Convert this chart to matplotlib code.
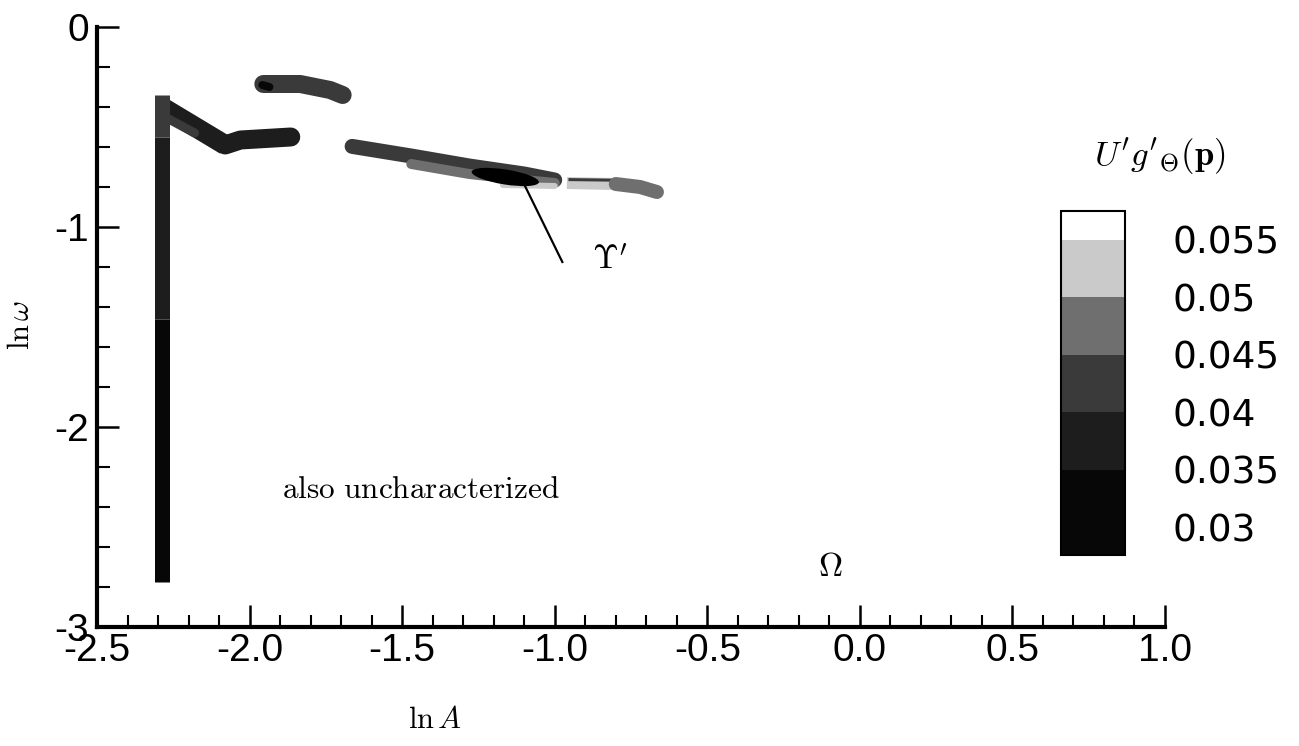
import numpy as np
import matplotlib
matplotlib.use("Agg")
import matplotlib.pyplot as plt
from matplotlib.colors import ListedColormap, BoundaryNorm
from matplotlib.patches import Ellipse
import matplotlib.transforms as mtransforms
import matplotlib.colorbar as mcolorbar
from matplotlib.ticker import MultipleLocator, FuncFormatter

plt.rcParams['mathtext.fontset'] = 'cm'
plt.rcParams['axes.unicode_minus'] = False
plt.rcParams['font.family'] = ['Liberation Sans', 'DejaVu Sans']

# ---- data ----
# colour levels of U' g'_Theta(p)
level_bounds = [0.0276, 0.035, 0.04, 0.045, 0.05, 0.055, 0.0575]
level_colors = ['#070707', '#1d1d1d', '#3a3a3a', '#6f6f6f', '#cacaca', '#ffffff']
cbar_ticks = [0.03, 0.035, 0.04, 0.045, 0.05, 0.055]
cbar_labels = ['0.03', '0.035', '0.04', '0.045', '0.05', '0.055']

# region traces in (ln A, ln omega) with value of U' g'_Theta(p)
trace_lnA = [
    [-2.287, -2.08],                                   # diagonal
    [-2.08, -2.03, -1.865],                            # shelf
    [-2.265, -2.18],                                   # diagonal inner
    [-2.287, -2.287],                                  # vertical, lower
    [-2.287, -2.287],                                  # vertical, middle
    [-2.287, -2.287],                                  # vertical, top
    [-1.955, -1.834, -1.736, -1.695],                  # upper blob
    [-1.958, -1.935],                                  # upper blob tip
    [-1.664, -1.47, -1.28, -1.10, -1.00],              # band dark
    [-1.47, -1.28, -1.10, -1.00],                      # band medium
    [-1.17, -1.00],                                    # band light
    [-0.96, -0.81],                                    # right light
    [-0.955, -0.80],                                   # right dark edge
    [-0.80, -0.72, -0.665],                            # right medium
]
trace_lnw = [
    [-0.40, -0.59],
    [-0.59, -0.565, -0.55],
    [-0.46, -0.53],
    [-1.46, -2.775],
    [-0.55, -1.46],
    [-0.34, -0.55],
    [-0.285, -0.285, -0.315, -0.34],
    [-0.29, -0.30],
    [-0.597, -0.645, -0.695, -0.735, -0.765],
    [-0.685, -0.735, -0.765, -0.78],
    [-0.79, -0.795],
    [-0.78, -0.785],
    [-0.763, -0.766],
    [-0.785, -0.80, -0.825],
]
trace_val = [0.037, 0.037, 0.042, 0.032, 0.037, 0.042, 0.042, 0.032,
             0.042, 0.047, 0.052, 0.052, 0.042, 0.047]

# feature marker Upsilon'
ups_center = (-1.162, -0.75)
ups_pointer_lnA = [-1.107, -0.975]
ups_pointer_lnw = [-0.765, -1.175]

# ---- styles (pixel widths) ----
trace_px = [20, 19, 9, 15, 15, 15, 18, 8, 15, 10, 6, 12, 3, 14]
trace_cap = ['butt', 'round', 'round', 'butt', 'butt', 'butt', 'round', 'round',
             'round', 'round', 'round', 'butt', 'butt', 'round']

fig = plt.figure(figsize=(12.99, 7.46), dpi=100)
ax = fig.add_axes([97/1299, 1-627/746, 1068/1299, 600/746])

cmap = ListedColormap(level_colors)
norm = BoundaryNorm(level_bounds, cmap.N)

px = 72/100.
for xs, ys, v, w, cap in zip(trace_lnA, trace_lnw, trace_val, trace_px, trace_cap):
    ax.plot(xs, ys, color=cmap(norm(v)), lw=w*px, solid_capstyle=cap,
            solid_joinstyle='round', zorder=2)

# ellipse sized in pixels, placed in data coordinates
etrans = mtransforms.Affine2D() + mtransforms.ScaledTranslation(ups_center[0], ups_center[1], ax.transData)
ax.add_patch(Ellipse((0, 0), 68, 15, angle=-9, facecolor='black', edgecolor='none',
                     transform=etrans, zorder=3))
ax.plot(ups_pointer_lnA, ups_pointer_lnw, color='black', lw=2.2*px, zorder=3)

ax.text(-0.82, -1.17, r"$\Upsilon'$", fontsize=24, ha='center', va='center')
ax.text(-1.44, -2.315, r"$\mathrm{also\ uncharacterized}$", fontsize=22.5, ha='center', va='center')
ax.text(-0.097, -2.70, r"$\Omega$", fontsize=24, ha='center', va='center')

ax.set_xlim(-2.5, 1.0)
ax.set_ylim(-3, 0)
for s in ['top', 'right']:
    ax.spines[s].set_visible(False)
for s in ['left', 'bottom']:
    ax.spines[s].set_linewidth(3)

ax.xaxis.set_major_locator(MultipleLocator(0.5))
ax.xaxis.set_minor_locator(MultipleLocator(0.1))
ax.yaxis.set_major_locator(MultipleLocator(1))
ax.yaxis.set_minor_locator(MultipleLocator(0.2))
ax.xaxis.set_major_formatter(FuncFormatter(lambda v, p: f"{v:.1f}"))
ax.yaxis.set_major_formatter(FuncFormatter(lambda v, p: f"{v:.0f}"))
ax.tick_params(which='major', direction='in', length=16, width=1.8, labelsize=28)
ax.tick_params(which='minor', direction='in', length=9, width=1.5)
ax.tick_params(axis='x', which='major', pad=4)
ax.tick_params(axis='y', which='major', pad=6)

ax.set_xlabel(r"$\ln A$", fontsize=22)
ax.set_ylabel(r"$\ln\omega$", fontsize=22)
ax.xaxis.set_label_coords((435-97)/1068, (627-705)/600)
ax.yaxis.set_label_coords((36-97)/1068, (627-325)/600)

# colour legend
cax = fig.add_axes([1061/1299, 1-555/746, 64/1299, 344/746])
cb = mcolorbar.ColorbarBase(cax, cmap=cmap, norm=norm, boundaries=level_bounds,
                            spacing='proportional', ticks=cbar_ticks)
cb.set_ticklabels(cbar_labels)
cb.outline.set_linewidth(1.5)
cax.minorticks_off()
cax.tick_params(which='both', length=0, pad=34, labelsize=27)
for t in cax.get_yticklabels():
    t.set_fontfamily('DejaVu Sans')
fig.text(1160/1299, 1-157/746, r"$U'g'_{\Theta}(\mathbf{p})$", fontsize=25,
         ha='center', va='center')

fig.savefig("out.png", dpi=100)
